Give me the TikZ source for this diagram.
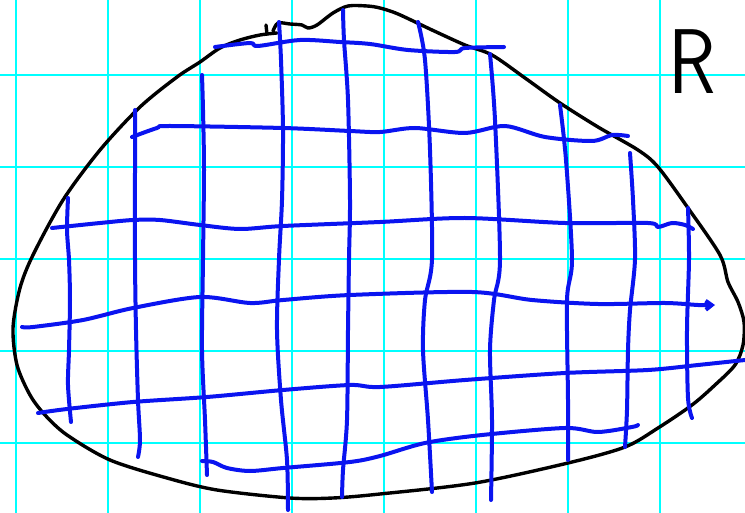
\documentclass[tikz,border=0pt]{standalone}
\usepackage{tikz}
\usetikzlibrary{arrows.meta}
\definecolor{gridcyan}{RGB}{0,255,255}
\definecolor{penblue}{RGB}{10,20,240}
\tikzset{
  paper/.style={gridcyan,line width=2.4pt},
  pen/.style={penblue,line width=4pt,line cap=round,line join=round},
  rim/.style={black,line width=3.4pt,line cap=round,line join=round}
}

\begin{document}
\begin{tikzpicture}[x=1pt,y=-1pt]
\useasboundingbox (0,0) rectangle (745,513);
\fill[white] (0,0) rectangle (745,513);

% squared paper
\foreach \x in {16,108,...,660}{
  \draw[paper] (\x,0) -- (\x,513);
}
\foreach \y in {75,167,...,443}{
  \draw[paper] (0,\y) -- (745,\y);
}

% region boundary
\draw[rim] plot[smooth] coordinates {(273,31) (278,23) (290,24) (302,25) (308,28) (317,25)
  (333,13) (348,6) (367,6) (380,8) (398,14) (432,30) (465,45) (492,55) (525,78) (560,103)
  (598,127) (638,150) (658,167) (688,208) (720,255) (728,282) (738,302) (744,322) (743,345)
  (735,365) (715,385) (692,405) (658,428) (625,447) (568,463) (475,483) (380,494) (333,498)
  (290,498) (217,490) (167,478) (110,460) (67,435) (45,415) (30,395) (17,365) (13,328)
  (20,288) (33,255) (63,200) (100,150) (140,107) (177,77) (200,62) (220,48) (240,40)
  (260,35) (277,33)};
\draw[rim] (266,25) -- (267,34);

% vertical strokes
\draw[pen] plot[smooth] coordinates {(68,198) (67,230) (69,260) (70,300) (69,350) (68,385) (71,422)};
\draw[pen] plot[smooth] coordinates {(135,110) (135,170) (135,259) (136,330) (138,400) (140,440) (138,457)};
\draw[pen] plot[smooth] coordinates {(202,75) (203,110) (204,170) (203,259) (202,350) (205,420) (207,475)};
\draw[pen] plot[smooth] coordinates {(279,22) (281,60) (283,130) (282,200) (279,259) (277,330) (281,400) (287,460) (288,510)};
\draw[pen] plot[smooth] coordinates {(343,10) (344,40) (348,100) (350,200) (349,259) (348,330) (347,420) (343,470) (342,497)};
\draw[pen] plot[smooth] coordinates {(418,22) (425,60) (430,150) (432,259) (425,300) (423,350) (428,420) (432,492)};
\draw[pen] plot[smooth] coordinates {(490,54) (495,120) (500,259) (494,300) (490,350) (492,420) (491,500)};
\draw[pen] plot[smooth] coordinates {(560,105) (566,160) (572,259) (567,300) (568,400) (568,460)};
\draw[pen] plot[smooth] coordinates {(630,153) (633,200) (635,259) (630,310) (628,350) (627,410) (625,447)};
\draw[pen] plot[smooth] coordinates {(688,208) (689,259) (687,330) (688,398) (692,418)};

% horizontal strokes
\draw[pen] plot[smooth] coordinates {(215,47) (250,43) (258,46) (300,40) (340,42) (370,44) (408,50)
  (455,52) (465,48) (504,47)};
\draw[pen] plot[smooth] coordinates {(132,137) (157,128) (170,126) (283,128) (350,131) (380,132)
  (415,128) (465,133) (505,126) (545,137) (592,141) (612,135) (628,136)};
\draw[pen] plot[smooth] coordinates {(52,228) (100,223) (133,220) (160,220) (200,225) (240,229)
  (283,226) (380,222) (465,218) (565,223) (648,223) (658,227) (672,223) (685,225) (693,229)};
\draw[pen,-{Straight Barb[length=6pt,width=9pt]}] plot[smooth] coordinates {(22,327) (33,327)
  (83,320) (133,308) (200,297) (250,303) (283,300) (350,295) (472,292) (532,300) (598,304)
  (665,303) (698,305) (715,305)};
\draw[pen] plot[smooth] coordinates {(38,413) (67,409) (133,402) (207,397) (283,390) (350,385)
  (380,387) (465,380) (565,373) (648,370) (698,365) (745,360)};
\draw[pen] plot[smooth] coordinates {(202,461) (213,462) (227,468) (250,471) (283,468) (350,462)
  (380,456) (425,443) (482,435) (565,428) (598,432) (632,427) (638,425)};

\node[font=\fontsize{92}{92}\selectfont\sffamily,xscale=0.85] (rlabel) at (692,62) {R};
\end{tikzpicture}
\end{document}
